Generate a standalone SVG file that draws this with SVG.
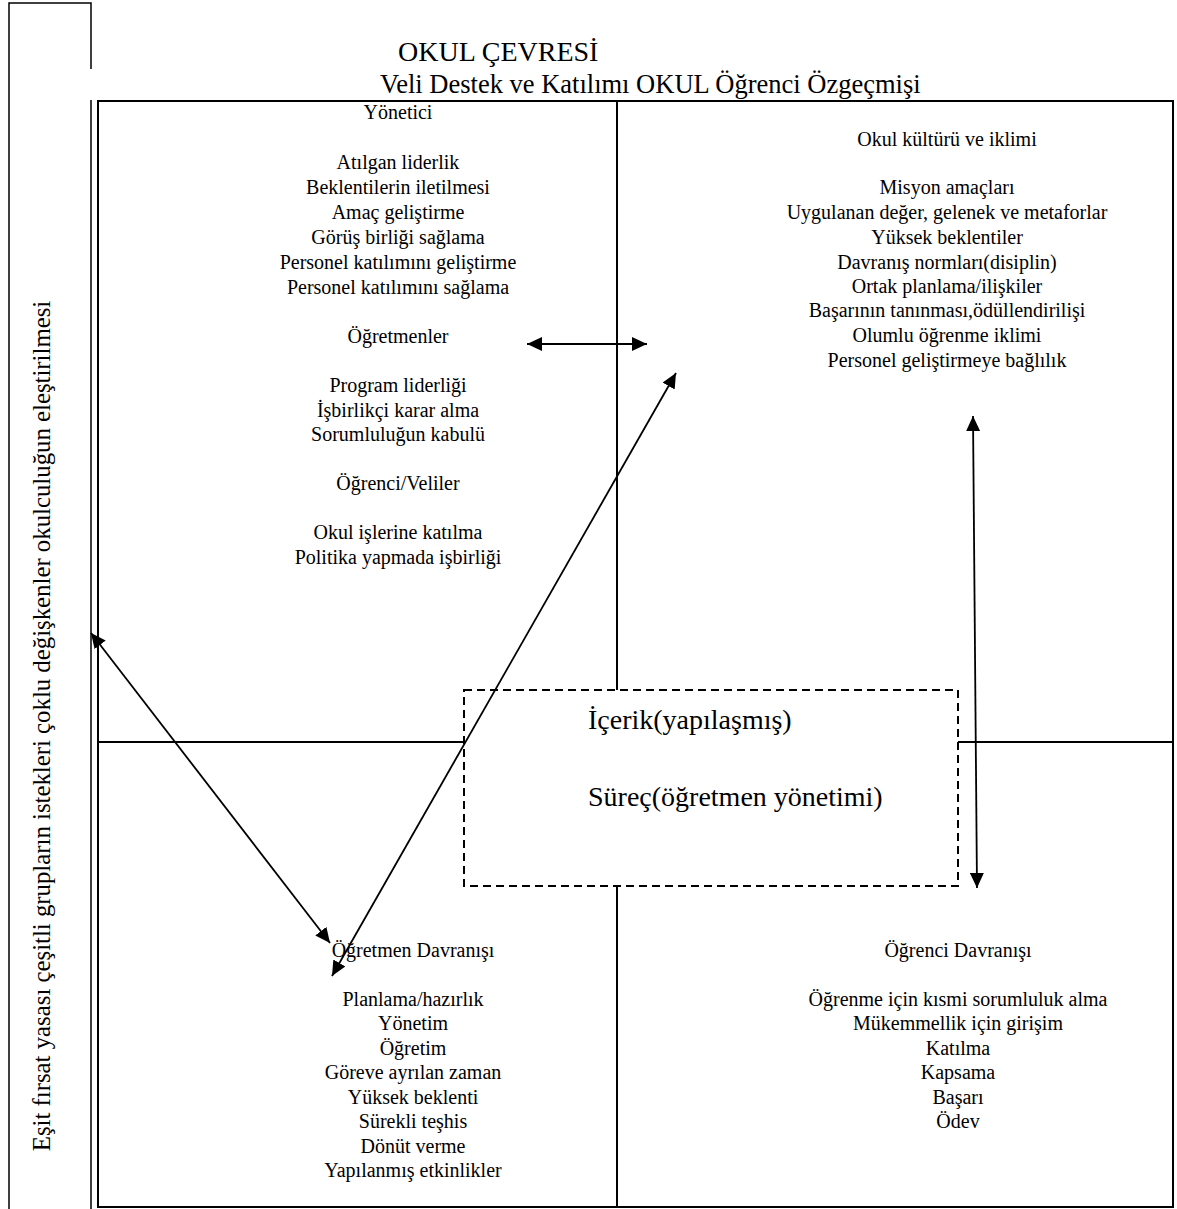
<svg xmlns="http://www.w3.org/2000/svg" width="1177" height="1209" viewBox="0 0 1177 1209">
<style>
text{font-family:"Liberation Serif","Times New Roman",serif;fill:#000}
.b{font-size:20px;text-anchor:middle}
.c{font-size:28px}
.frame{fill:none;stroke:#000;stroke-width:2}
.thin{fill:none;stroke:#000;stroke-width:1.5}
.con{fill:none;stroke:#000;stroke-width:1.8}
</style>
<defs>
<marker id="ah" markerUnits="userSpaceOnUse" markerWidth="16" markerHeight="14" refX="15" refY="7" orient="auto-start-reverse">
<path d="M0,0 L15,7 L0,14 z" fill="#000"/>
</marker>
</defs>
<rect width="1177" height="1209" fill="#fff"/>
<g id="frame">
<path class="thin" d="M9,1209 V3 H91 V69 M91,100 V1209"/>
<rect class="frame" x="98" y="101" width="1075" height="1106"/>
<line class="frame" x1="617" y1="101" x2="617" y2="1207"/>
<line class="frame" x1="98" y1="742" x2="1173" y2="742"/>
</g>
<g id="title">
<text font-size="28" x="398" y="61">OKUL ÇEVRESİ</text>
<text font-size="26.5" x="380" y="93">Veli Destek ve Katılımı OKUL Öğrenci Özgeçmişi</text>
</g>
<g id="side-label">
<text font-size="24.8" text-anchor="middle" transform="translate(50,726) rotate(-90)">Eşit fırsat yasası çeşitli grupların istekleri çoklu değişkenler okulculuğun eleştirilmesi</text>
</g>
<g id="top-left">
<text class="b" x="398" y="119">Yönetici</text>
<text class="b" x="398" y="169">Atılgan liderlik</text>
<text class="b" x="398" y="194">Beklentilerin iletilmesi</text>
<text class="b" x="398" y="219">Amaç geliştirme</text>
<text class="b" x="398" y="244">Görüş birliği sağlama</text>
<text class="b" x="398" y="269">Personel katılımını geliştirme</text>
<text class="b" x="398" y="294">Personel katılımını sağlama</text>
<text class="b" x="398" y="343">Öğretmenler</text>
<text class="b" x="398" y="392">Program liderliği</text>
<text class="b" x="398" y="417">İşbirlikçi karar alma</text>
<text class="b" x="398" y="441">Sorumluluğun kabulü</text>
<text class="b" x="398" y="490">Öğrenci/Veliler</text>
<text class="b" x="398" y="539">Okul işlerine katılma</text>
<text class="b" x="398" y="564">Politika yapmada işbirliği</text>
</g>
<g id="top-right">
<text class="b" x="947" y="146">Okul kültürü ve iklimi</text>
<text class="b" x="947" y="194">Misyon amaçları</text>
<text class="b" x="947" y="219">Uygulanan değer, gelenek ve metaforlar</text>
<text class="b" x="947" y="244">Yüksek beklentiler</text>
<text class="b" x="947" y="269">Davranış normları(disiplin)</text>
<text class="b" x="947" y="293">Ortak planlama/ilişkiler</text>
<text class="b" x="947" y="317">Başarının tanınması,ödüllendirilişi</text>
<text class="b" x="947" y="342">Olumlu öğrenme iklimi</text>
<text class="b" x="947" y="367">Personel geliştirmeye bağlılık</text>
</g>
<g id="bottom-left">
<text class="b" x="413" y="957">Öğretmen Davranışı</text>
<text class="b" x="413" y="1006">Planlama/hazırlık</text>
<text class="b" x="413" y="1030">Yönetim</text>
<text class="b" x="413" y="1055">Öğretim</text>
<text class="b" x="413" y="1079">Göreve ayrılan zaman</text>
<text class="b" x="413" y="1104">Yüksek beklenti</text>
<text class="b" x="413" y="1128">Sürekli teşhis</text>
<text class="b" x="413" y="1153">Dönüt verme</text>
<text class="b" x="413" y="1177">Yapılanmış etkinlikler</text>
</g>
<g id="bottom-right">
<text class="b" x="958" y="957">Öğrenci Davranışı</text>
<text class="b" x="958" y="1006">Öğrenme için kısmi sorumluluk alma</text>
<text class="b" x="958" y="1030">Mükemmellik için girişim</text>
<text class="b" x="958" y="1055">Katılma</text>
<text class="b" x="958" y="1079">Kapsama</text>
<text class="b" x="958" y="1104">Başarı</text>
<text class="b" x="958" y="1128">Ödev</text>
</g>
<g id="center-box">
<rect x="464" y="690" width="494" height="196" fill="#fff" stroke="#000" stroke-width="2" stroke-dasharray="8,5"/>
<text class="c" x="588" y="729">İçerik(yapılaşmış)</text>
<text class="c" x="588" y="806">Süreç(öğretmen yönetimi)</text>
</g>
<g id="connectors">
<line class="con" x1="527" y1="344" x2="647" y2="344" marker-start="url(#ah)" marker-end="url(#ah)"/>
<line class="con" x1="332" y1="976" x2="676" y2="373" marker-start="url(#ah)" marker-end="url(#ah)"/>
<line class="con" x1="91" y1="633" x2="330" y2="943" marker-start="url(#ah)" marker-end="url(#ah)"/>
<line class="con" x1="973" y1="416" x2="977" y2="888" marker-start="url(#ah)" marker-end="url(#ah)"/>
</g>
</svg>
